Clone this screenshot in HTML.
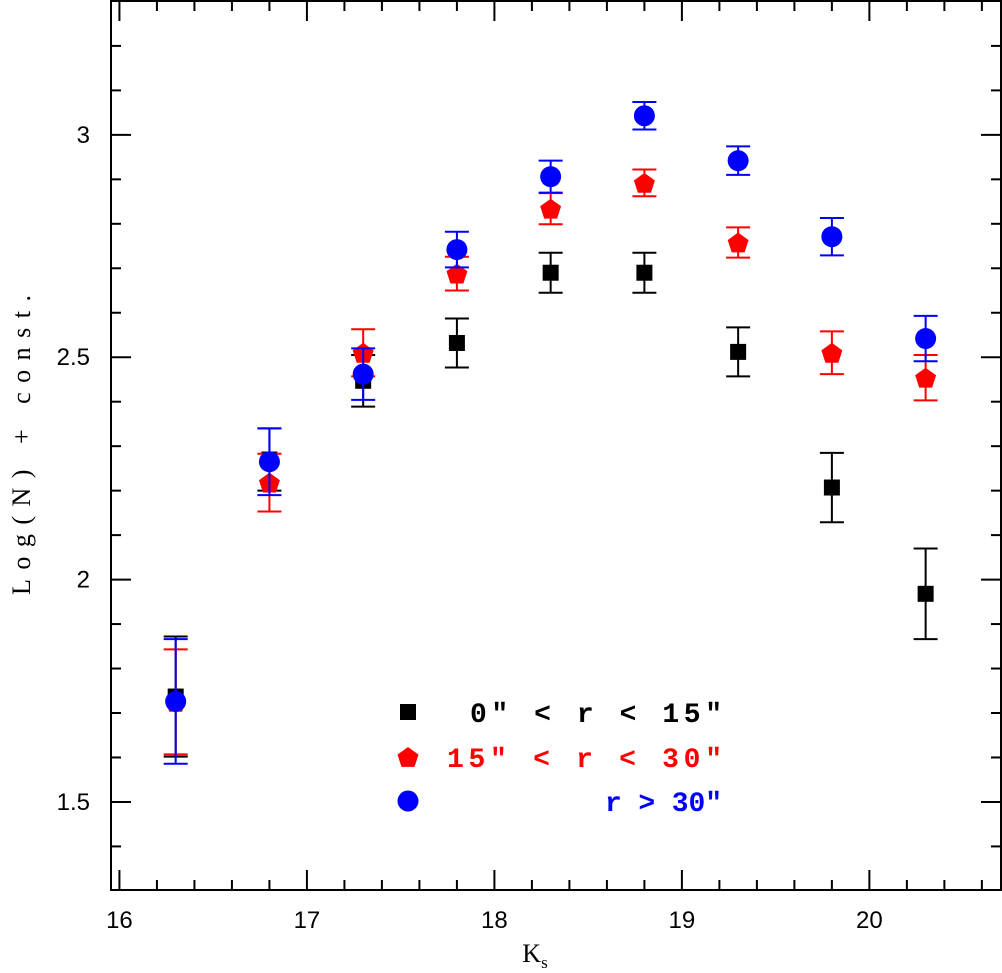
<!DOCTYPE html>
<html><head><meta charset="utf-8"><style>body{margin:0;background:#fff}svg{display:block}</style></head>
<body>
<svg id="chart" width="1002" height="973" viewBox="0 0 1002 973" xmlns="http://www.w3.org/2000/svg" font-family="Liberation Sans, sans-serif"></svg>
<script>
const categories=[16.3,16.8,17.3,17.8,18.3,18.8,19.3,19.8,20.3];
const innerValues=[1.737,2.27,2.447,2.532,2.69,2.69,2.512,2.207,1.968];
const innerErrors=[0.135,0.07,0.058,0.055,0.045,0.045,0.055,0.078,0.102];
const middleValues=[1.725,2.218,2.51,2.688,2.834,2.892,2.758,2.51,2.454];
const middleErrors=[0.118,0.065,0.053,0.038,0.035,0.03,0.034,0.048,0.051];
const outerValues=[1.726,2.265,2.462,2.742,2.906,3.043,2.942,2.771,2.542];
const outerErrors=[0.14,0.075,0.058,0.04,0.036,0.031,0.032,0.042,0.051];
const xTicks=[16,17,18,19,20];
const yTicks=[1.5,2,2.5,3];
const yTickLabels=["1.5","2","2.5","3"];

const L=111,R=1001,T=1,B=890,x0=15.955,x1=20.702,y0=1.302,y1=3.301;
const X=v=>L+(v-x0)/(x1-x0)*(R-L);
const Y=v=>B-(v-y0)/(y1-y0)*(B-T);
const svg=document.getElementById('chart');
const NS='http://www.w3.org/2000/svg';
function mk(tag,attrs,parent){const e=document.createElementNS(NS,tag);for(const k in attrs)e.setAttribute(k,attrs[k]);(parent||svg).appendChild(e);return e;}

const frame=mk('rect',{x:L,y:T,width:R-L,height:B-T,fill:'none',stroke:'#000','stroke-width':2});



for(let v=16;v<=20.7001;v+=0.2){const maj=Math.abs(v-Math.round(v))<1e-6;const len=maj?20:10;const px=X(v);
 const t1=mk('line',{x1:px,x2:px,y1:B,y2:B-len,stroke:'#000','stroke-width':2});
 
 
 mk('line',{x1:px,x2:px,y1:T,y2:T+len,stroke:'#000','stroke-width':2});}
xTicks.forEach(v=>{const t=mk('text',{x:X(v),y:928,'font-size':24,'text-anchor':'middle'});t.textContent=String(v);
 
 });
for(let v=1.4;v<=3.2001;v+=0.1){const maj=Math.abs(v*2-Math.round(v*2))<1e-6;const len=maj?20:10;const py=Y(v);
 const t1=mk('line',{x1:L,x2:L+len,y1:py,y2:py,stroke:'#000','stroke-width':2});
 
 
 mk('line',{x1:R,x2:R-len,y1:py,y2:py,stroke:'#000','stroke-width':2});}
yTicks.forEach((v,i)=>{const t=mk('text',{x:90,y:Y(v)+8,'font-size':24,'text-anchor':'end'});t.textContent=yTickLabels[i];
 
 });

const xl=mk('text',{x:535,y:962,'font-size':26,'text-anchor':'middle','font-family':'Liberation Serif, serif'});
xl.innerHTML='K<tspan font-size="17" dy="6">s</tspan>';


const yl=mk('text',{x:0,y:0,'font-size':26,'text-anchor':'middle','font-family':'Liberation Serif, serif',textLength:300,lengthAdjust:'spacing',transform:'translate(30,445) rotate(-90)'});
yl.textContent='Log(N) + const.';



function marker(shape,cx,cy,color,name){let e;
 if(shape==='square')e=mk('rect',{x:cx-8,y:cy-8,width:16,height:16,fill:color});
 else if(shape==='circle')e=mk('circle',{cx:cx,cy:cy,r:10.5,fill:color});
 else{const p=[];for(let k=0;k<5;k++){const a=-Math.PI/2+k*2*Math.PI/5;p.push((cx+11*Math.cos(a)).toFixed(1)+','+(cy+11*Math.sin(a)+1).toFixed(1));}
  e=mk('polygon',{points:p.join(' '),fill:color});}
 
 
 return e;}
function series(vals,errs,color,shape,name){
 categories.forEach((c,i)=>{const px=X(c),hi=Y(vals[i]+errs[i]),lo=Y(vals[i]-errs[i]);
  const g=mk('g',{stroke:color,'stroke-width':2});
  
  
  mk('line',{x1:px,x2:px,y1:hi,y2:lo},g);
  mk('line',{x1:px-12,x2:px+12,y1:hi,y2:hi},g);
  mk('line',{x1:px-12,x2:px+12,y1:lo,y2:lo},g);
  marker(shape,px,Y(vals[i]),color,name+'-point');});}
series(innerValues,innerErrors,'#000','square','inner');
series(middleValues,middleErrors,'#f00','pentagon','middle');
series(outerValues,outerErrors,'#00f','circle','outer');

const legend=[['square','#000','0″ < r < 15″',712,470],['pentagon','#f00','15″ < r < 30″',757,447],['circle','#00f','r > 30″',801,605]];
legend.forEach(([s,c,txt,y,xs])=>{marker(s,408,y,c,'legend-marker');
 const t=mk('text',{x:xs,y:y+10,'font-size':28,'font-weight':'bold',fill:c,'font-family':'Liberation Mono, monospace',textLength:722-xs,lengthAdjust:'spacing'});
 t.textContent=txt;
 
 });
</script>
</body></html>
